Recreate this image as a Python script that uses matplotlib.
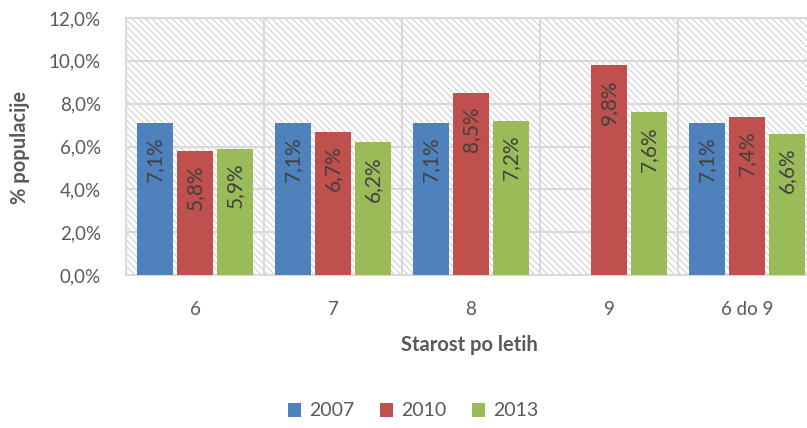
import numpy as np
import matplotlib
matplotlib.use('Agg')
import matplotlib.pyplot as plt
from matplotlib.patches import Rectangle

# Data
categories = ['6', '7', '8', '9', '6 do 9']
years = ['2007', '2010', '2013']
v2007 = [7.1, 7.1, 7.1, np.nan, 7.1]
v2010 = [5.8, 6.7, 8.5, 9.8, 7.4]
v2013 = [5.9, 6.2, 7.2, 7.6, 6.6]
colors = ['#4F81BD', '#C0504D', '#9BBB59']

plt.rcParams['font.family'] = ['Lato', 'DejaVu Sans']
plt.rcParams['hatch.linewidth'] = 0.9
plt.rcParams['hatch.color'] = '#d6d6d6'
text_col = '#595959'
grid_col = '#d9d9d9'

fig = plt.figure(figsize=(8.07, 4.28), dpi=100)
ax = fig.add_axes([126/807, 1 - 275/428, 690/807, 257/428])

# hatched plot background
bg = Rectangle((0, 0), 1, 1, transform=ax.transAxes, facecolor='white',
               edgecolor='#d6d6d6', hatch='\\' * 5, linewidth=0, zorder=0)
ax.add_patch(bg)
ax.set_facecolor('none')

x = np.arange(len(categories))
width = 0.26
step = 0.29
for i, (vals, c, lab) in enumerate(zip([v2007, v2010, v2013], colors, years)):
    pos = x + (i - 1) * step
    bars = ax.bar(pos, vals, width, color=c, label=lab, zorder=3)
    for xp, v in zip(pos, vals):
        if np.isnan(v):
            continue
        ax.annotate(f'{v:.1f}%'.replace('.', ','), (xp, v), xytext=(0, -10),
                    textcoords='offset points', rotation=90, ha='center', va='top',
                    fontsize=15, color='#404040', zorder=4)

ax.set_xlim(-0.5, len(categories) - 0.5)
ax.set_ylim(0, 12)
ax.set_yticks(np.arange(0, 13, 2))
ax.set_yticklabels([f'{t:.1f}%'.replace('.', ',') for t in np.arange(0, 13, 2)])
ax.set_xticks(x)
ax.set_xticklabels(categories)
ax.set_xticks(np.arange(-0.5, len(categories), 1), minor=True)
ax.tick_params(axis='both', which='both', length=0, colors=text_col, labelsize=13.5)
ax.tick_params(axis='y', pad=18)
ax.tick_params(axis='x', pad=19)
ax.grid(axis='y', color=grid_col, linewidth=1.5, zorder=1)
ax.grid(axis='x', which='minor', color=grid_col, linewidth=1.5, zorder=1)
for s in ax.spines.values():
    s.set_color(grid_col)
    s.set_linewidth(1.5)

fig.text(469/807, 1 - 345/428, 'Starost po letih', ha='center', va='center',
         fontsize=14.5, fontweight='bold', color=text_col)
fig.text(20/807, 1 - 147/428, '% populacije', ha='center', va='center',
         rotation=90, fontsize=14.5, fontweight='bold', color=text_col)

leg = fig.legend(loc='center', bbox_to_anchor=(413/807, 1 - 411/428), ncol=3,
                 frameon=False, fontsize=14, handlelength=0.7, handleheight=0.7,
                 columnspacing=1.3, handletextpad=0.4)
for t in leg.get_texts():
    t.set_color(text_col)

fig.savefig('out.png', dpi=100)
